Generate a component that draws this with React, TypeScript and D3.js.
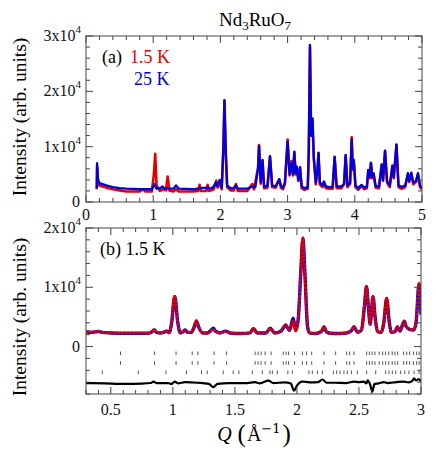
import React from 'react';
import * as d3 from 'd3';

const W = 436;
const H = 456;
const FONT = '"Liberation Serif", "Times New Roman", serif';
const RED = '#e40000';
const BLUE = '#0000d8';

// (a) neutron pattern at 1.5 K and 25 K, [Q, intensity]
const pattern15K: [number, number][] = [
  [0.16, 2300], [0.165, 6500], [0.18, 3500], [0.2, 3000], [0.3, 2600], [0.4, 2300], [0.5, 2100],
  [0.6, 1900], [0.8, 1900], [0.85, 2300], [0.88, 1900], [0.98, 1900], [1.01, 5000], [1.03, 8700],
  [1.05, 3000], [1.1, 2000], [1.15, 2300], [1.19, 2100], [1.215, 4600], [1.24, 2100], [1.3, 1900],
  [1.34, 2300], [1.38, 1900], [1.6, 1900], [1.67, 2000], [1.69, 3100], [1.71, 2000], [1.79, 2000],
  [1.81, 3100], [1.83, 2000], [1.9, 2300], [1.94, 3850], [1.96, 2600], [1.99, 3600], [2.02, 2300],
  [2.045, 10000], [2.06, 18300], [2.08, 9000], [2.1, 2700], [2.15, 2100], [2.2, 2100], [2.23, 3250],
  [2.26, 2000], [2.4, 2000], [2.475, 3250], [2.5, 2300], [2.56, 6200], [2.575, 10300], [2.6, 3300],
  [2.627, 7500], [2.65, 2500], [2.7, 2600], [2.738, 8200], [2.77, 2700], [2.82, 2600], [2.85, 3400],
  [2.876, 4100], [2.9, 2600], [2.93, 2300], [2.96, 3300], [3.0, 11300], [3.03, 4800], [3.06, 7400],
  [3.08, 4800], [3.1, 9000], [3.12, 5000], [3.135, 6300], [3.16, 3800], [3.185, 6200], [3.21, 2500],
  [3.25, 2200], [3.3, 2400], [3.315, 9000], [3.333, 28000], [3.35, 12000], [3.37, 15000], [3.39, 7800],
  [3.42, 3200], [3.445, 5800], [3.46, 8800], [3.48, 3200], [3.52, 2700], [3.54, 3600], [3.57, 2500],
  [3.62, 2400], [3.67, 2400], [3.7, 8100], [3.73, 2500], [3.8, 2500], [3.84, 3200], [3.864, 8400],
  [3.89, 2700], [3.93, 3300], [3.954, 11700], [3.97, 5800], [3.985, 7500], [4.01, 2700], [4.05, 2200],
  [4.1, 2900], [4.14, 2300], [4.18, 2500], [4.2, 5700], [4.22, 4300], [4.24, 7000], [4.26, 4300],
  [4.28, 5000], [4.31, 2600], [4.36, 2500], [4.4, 6800], [4.42, 3800], [4.45, 9200], [4.48, 3500],
  [4.52, 2700], [4.56, 6600], [4.58, 4300], [4.62, 10300], [4.65, 2700], [4.7, 2400], [4.75, 2700],
  [4.79, 5000], [4.81, 3600], [4.84, 5200], [4.87, 3200], [4.91, 3600], [4.94, 5000], [4.97, 2700],
  [5.0, 2300],
];

const pattern25K: [number, number][] = [
  [0.16, 2500], [0.165, 7000], [0.18, 4000], [0.2, 3400], [0.3, 3000], [0.4, 2700], [0.5, 2500],
  [0.6, 2400], [0.8, 2300], [0.98, 2300], [1.02, 3200], [1.05, 2400], [1.1, 2500], [1.14, 2800],
  [1.17, 2400], [1.3, 2400], [1.34, 3000], [1.38, 2400], [1.6, 2300], [1.7, 2500], [1.8, 2600],
  [1.86, 2400], [1.9, 2800], [1.93, 3500], [1.95, 2900], [1.99, 4000], [2.02, 2600], [2.045, 10000],
  [2.06, 18400], [2.08, 9000], [2.1, 3000], [2.15, 2500], [2.2, 2500], [2.23, 3000], [2.26, 2400],
  [2.4, 2400], [2.47, 2800], [2.52, 2700], [2.56, 6000], [2.575, 10100], [2.6, 3600], [2.627, 7600],
  [2.65, 2800], [2.7, 2900], [2.738, 8300], [2.77, 3000], [2.82, 2800], [2.85, 3500], [2.876, 4100],
  [2.9, 2900], [2.93, 2600], [2.96, 3500], [3.0, 10900], [3.03, 5000], [3.06, 7000], [3.08, 5000],
  [3.1, 9100], [3.12, 5200], [3.135, 6400], [3.16, 4000], [3.185, 6300], [3.21, 2800], [3.25, 2500],
  [3.3, 2700], [3.315, 9000], [3.333, 28400], [3.35, 12000], [3.37, 15100], [3.39, 8000], [3.42, 3500],
  [3.445, 6000], [3.46, 8900], [3.48, 3500], [3.52, 3000], [3.54, 3700], [3.57, 2800], [3.62, 2700],
  [3.67, 2700], [3.7, 8200], [3.73, 2800], [3.8, 2800], [3.84, 3300], [3.864, 8500], [3.89, 3000],
  [3.93, 3500], [3.954, 11300], [3.97, 6000], [3.985, 7600], [4.01, 3000], [4.05, 2500], [4.1, 3100],
  [4.14, 2600], [4.18, 2800], [4.2, 5800], [4.22, 4500], [4.24, 7100], [4.26, 4500], [4.28, 5200],
  [4.31, 2900], [4.36, 2800], [4.4, 6700], [4.42, 4000], [4.45, 9300], [4.48, 3800], [4.52, 3000],
  [4.56, 6500], [4.58, 4500], [4.62, 10400], [4.65, 3000], [4.7, 2700], [4.75, 3000], [4.79, 5200],
  [4.81, 3800], [4.84, 5300], [4.87, 3500], [4.91, 3800], [4.94, 5200], [4.97, 3000], [5.0, 2600],
];

// (b) refinement at 1.5 K: calculated, observed, difference
const calc15K: [number, number][] = [
  [0.3, 2450], [0.35, 2400], [0.4, 2550], [0.43, 2400], [0.5, 2300], [0.6, 2250], [0.7, 2250],
  [0.8, 2250], [0.83, 2450], [0.85, 2800], [0.87, 2400], [0.9, 2300], [0.93, 2450], [0.95, 2600],
  [0.97, 2350], [0.99, 4000], [1.015, 8400], [1.04, 4000], [1.06, 2300], [1.08, 2500], [1.1, 2800],
  [1.12, 2400], [1.15, 2400], [1.17, 3200], [1.19, 4300], [1.21, 3200], [1.24, 2300], [1.28, 2300],
  [1.31, 2800], [1.325, 3100], [1.345, 2600], [1.38, 2300], [1.425, 2600], [1.46, 2300], [1.55, 2200],
  [1.62, 2300], [1.65, 3000], [1.68, 2300], [1.75, 2300], [1.785, 3100], [1.82, 2300], [1.87, 2600],
  [1.91, 3600], [1.94, 2700], [1.97, 4800], [1.99, 2700], [2.01, 4500], [2.03, 12000], [2.048, 18200],
  [2.065, 12000], [2.085, 3500], [2.1, 2300], [2.15, 2200], [2.2, 2600], [2.218, 3300], [2.24, 2400],
  [2.3, 2200], [2.4, 2300], [2.44, 2700], [2.46, 3300], [2.49, 2400], [2.52, 2800], [2.545, 7000],
  [2.56, 10100], [2.575, 7000], [2.59, 3800], [2.6, 5500], [2.613, 8400], [2.63, 5000], [2.65, 2500],
  [2.68, 2400], [2.7, 4000], [2.723, 8100], [2.745, 4000], [2.76, 2400], [2.79, 2500], [2.81, 3300],
  [2.83, 2600], [2.85, 3600], [2.865, 4300], [2.88, 3400], [2.91, 2900], [2.94, 2800], [2.96, 4000],
  [2.984, 10500], [3.0, 5400],
];

const obs15K: [number, number][] = [
  [0.3, 2450], [0.35, 2450], [0.4, 2600], [0.43, 2400], [0.5, 2300], [0.6, 2250], [0.7, 2250],
  [0.8, 2250], [0.83, 2450], [0.85, 2900], [0.87, 2450], [0.9, 2300], [0.93, 2500], [0.95, 2650],
  [0.97, 2350], [0.99, 4100], [1.015, 8600], [1.04, 4000], [1.06, 2300], [1.08, 2550], [1.1, 2800],
  [1.12, 2400], [1.15, 2400], [1.17, 3300], [1.19, 4400], [1.21, 3200], [1.24, 2300], [1.28, 2250],
  [1.31, 2700], [1.325, 2900], [1.345, 2500], [1.38, 2300], [1.425, 2550], [1.46, 2300], [1.55, 2200],
  [1.62, 2300], [1.65, 3100], [1.68, 2300], [1.75, 2300], [1.785, 3100], [1.82, 2300], [1.87, 2700],
  [1.91, 3700], [1.94, 2700], [1.97, 4300], [1.99, 2600], [2.01, 4600], [2.03, 12200], [2.048, 18400],
  [2.065, 12000], [2.085, 3500], [2.1, 2300], [2.15, 2200], [2.2, 2700], [2.218, 3400], [2.24, 2400],
  [2.3, 2200], [2.4, 2300], [2.44, 2800], [2.46, 3400], [2.49, 2400], [2.52, 2800], [2.545, 7200],
  [2.56, 10200], [2.575, 7000], [2.59, 3700], [2.6, 5500], [2.613, 8500], [2.63, 4900], [2.65, 2500],
  [2.68, 2400], [2.7, 4000], [2.723, 8200], [2.745, 4000], [2.76, 2400], [2.79, 2600], [2.81, 3400],
  [2.83, 2600], [2.85, 3700], [2.865, 4300], [2.88, 3400], [2.91, 2900], [2.94, 2800], [2.96, 4200],
  [2.984, 10700], [3.0, 5400],
];

const diff15K: [number, number][] = [
  [0.3, -6150], [0.45, -6200], [0.6, -6300], [0.75, -6250], [0.82, -6150], [0.845, -5900],
  [0.87, -6150], [0.96, -6150], [0.99, -6300], [1.015, -5900], [1.04, -6200], [1.1, -6000],
  [1.2, -6100], [1.29, -6300], [1.326, -6850], [1.36, -6300], [1.45, -6150], [1.6, -6150],
  [1.66, -6000], [1.7, -6200], [1.77, -5750], [1.81, -6150], [1.9, -6050], [1.95, -6200],
  [1.976, -7450], [2.0, -6600], [2.04, -5900], [2.07, -5950], [2.12, -6050], [2.17, -6000],
  [2.205, -5550], [2.24, -6100], [2.3, -6100], [2.4, -6150], [2.46, -5900], [2.5, -6000],
  [2.54, -5900], [2.56, -6200], [2.57, -5700], [2.59, -6400], [2.608, -7600], [2.625, -6300],
  [2.66, -6200], [2.7, -6000], [2.73, -6150], [2.8, -6000], [2.86, -5900], [2.9, -6050],
  [2.93, -5800], [2.944, -5350], [2.96, -5700], [2.98, -5500], [3.0, -5900],
];

// Bragg reflection positions (Q) for the three tick rows
const braggNuclear = [
  0.578, 0.852, 1.026, 1.156, 1.202, 1.332, 1.433, 1.663, 1.687, 1.711, 1.744, 1.792, 1.89, 1.913,
  1.933, 1.981, 2.044, 2.078, 2.119, 2.218, 2.312, 2.401, 2.425, 2.46, 2.562, 2.584, 2.606, 2.629,
  2.663, 2.691, 2.715, 2.74, 2.768, 2.79, 2.812, 2.86, 2.885, 2.909, 2.939, 2.965, 2.985,
];
const braggSecond = braggNuclear;
const braggThird = [
  0.431, 0.721, 0.944, 1.11, 1.231, 1.277, 1.406, 1.487, 1.532, 1.64, 1.721, 1.782, 1.802, 1.842,
  1.927, 1.963, 2.097, 2.124, 2.165, 2.205, 2.294, 2.32, 2.347, 2.379, 2.406, 2.439, 2.487, 2.562,
  2.635, 2.715, 2.742, 2.769, 2.796, 2.836, 2.869, 2.903, 2.944, 2.984,
];

const topXTicks = [0, 1, 2, 3, 4, 5];
const topYTicks = [0, 10000, 20000, 30000];
const botXTicks = [0.5, 1, 1.5, 2, 2.5, 3];
const botYTicks = [0, 10000, 20000];

const topBox = { left: 86, right: 422, top: 36, bottom: 202 };
const botBox = { left: 86, right: 421, top: 228, bottom: 394 };

const xTop = d3.scaleLinear().domain([0, 5]).range([topBox.left, topBox.right]);
const yTop = d3.scaleLinear().domain([0, 30000]).range([topBox.bottom, topBox.top]);
const xBot = d3.scaleLinear().domain([0.3, 3]).range([botBox.left, botBox.right]);
const yBot = d3.scaleLinear().domain([-8000, 20000]).range([botBox.bottom, botBox.top]);

const steps = (a: number, b: number, s: number) =>
  d3.range(Math.round(a / s), Math.round(b / s) + 1).map(i => +(i * s).toFixed(4));

const Frame = ({ box, x, y, xMajor, xMinor, yMajor, yMinor }: any) => {
  const ticks: JSX.Element[] = [];
  xMinor.forEach((v: number, i: number) => {
    const px = x(v);
    const len = xMajor.some((m: number) => Math.abs(m - v) < 1e-6) ? 7 : 4;
    ticks.push(<line key={`xb${i}`} x1={px} x2={px} y1={box.bottom} y2={box.bottom - len} />);
    ticks.push(<line key={`xt${i}`} x1={px} x2={px} y1={box.top} y2={box.top + len} />);
  });
  yMinor.forEach((v: number, i: number) => {
    const py = y(v);
    const len = yMajor.some((m: number) => Math.abs(m - v) < 1e-6) ? 7 : 4;
    ticks.push(<line key={`yl${i}`} x1={box.left} x2={box.left + len} y1={py} y2={py} />);
    ticks.push(<line key={`yr${i}`} x1={box.right} x2={box.right - len} y1={py} y2={py} />);
  });
  return (
    <g stroke="#444" strokeWidth={1} fill="none">
      <rect x={box.left} y={box.top} width={box.right - box.left} height={box.bottom - box.top} />
      {ticks}
    </g>
  );
};

const YLabel = ({ v, y }: { v: number; y: number }) =>
  v === 0 ? (
    <text x={80} y={y + 5} textAnchor="end">0</text>
  ) : (
    <text x={81} y={y + 5} textAnchor="end">
      {`${v / 10000}x10`}
      <tspan dy={-8} fontSize={11}>4</tspan>
    </text>
  );

export default function App() {
  const lineTop = d3.line<[number, number]>().x(d => xTop(d[0])).y(d => yTop(d[1]));
  const lineBot = d3
    .line<[number, number]>()
    .x(d => xBot(d[0]))
    .y(d => yBot(d[1]))
    .curve(d3.curveMonotoneX);

  const braggRows = [
    { q: braggNuclear, y: 353.3 },
    { q: braggSecond, y: 363 },
    { q: braggThird, y: 372.3 },
  ];

  return (
    <svg
      width={W}
      height={H}
      style={{ position: 'absolute', left: 0, top: 0, background: '#fff' }}
      fontFamily={FONT}
    >
      <defs>
        <clipPath id="clipTop">
          <rect x={topBox.left} y={topBox.top} width={topBox.right - topBox.left} height={topBox.bottom - topBox.top} />
        </clipPath>
        <clipPath id="clipBot">
          <rect x={botBox.left} y={botBox.top} width={botBox.right - botBox.left} height={botBox.bottom - botBox.top} />
        </clipPath>
      </defs>

      {/* title */}
      <text x={255} y={26} textAnchor="middle" fontSize={19}>
        Nd<tspan fontSize={13} dy={4}>3</tspan>
        <tspan dy={-4}>RuO</tspan>
        <tspan fontSize={13} dy={4}>7</tspan>
      </text>

      {/* (a) */}
      <g clipPath="url(#clipTop)" fill="none" strokeLinejoin="round">
        <path d={lineTop(pattern15K) || ''} stroke={RED} strokeWidth={2.6} />
        <path d={lineTop(pattern25K) || ''} stroke={BLUE} strokeWidth={2.3} />
      </g>
      <Frame
        box={topBox}
        x={xTop}
        y={yTop}
        xMajor={topXTicks}
        xMinor={steps(0, 5, 0.2)}
        yMajor={topYTicks}
        yMinor={steps(0, 30000, 2000)}
      />
      <g fontSize={16} fill="#111">
        {topXTicks.map(v => (
          <text key={v} x={xTop(v)} y={220} textAnchor="middle">{v}</text>
        ))}
        {topYTicks.map(v => (
          <YLabel key={v} v={v} y={yTop(v)} />
        ))}
      </g>
      <text x={102} y={63} fontSize={18}>(a)</text>
      <text x={130} y={63} fontSize={18} fill={RED}>1.5 K</text>
      <text x={134} y={85} fontSize={18} fill={BLUE}>25 K</text>
      <text transform="translate(26,117) rotate(-90)" textAnchor="middle" fontSize={19.5}>
        Intensity (arb. units)
      </text>

      {/* (b) */}
      <g clipPath="url(#clipBot)" fill="none" strokeLinejoin="round">
        <path d={lineBot(calc15K) || ''} stroke={BLUE} strokeWidth={3.4} />
        <path d={lineBot(obs15K) || ''} stroke={RED} strokeWidth={2.6} strokeDasharray="3.2 0.7" />
        <path d={lineBot(diff15K) || ''} stroke="#000" strokeWidth={2.2} />
        {braggRows.map((row, r) =>
          row.q.map((q, i) => (
            <line key={`${r}-${i}`} x1={xBot(q)} x2={xBot(q)} y1={row.y - 1.8} y2={row.y + 1.8} stroke="#555" strokeWidth={1} />
          ))
        )}
      </g>
      <Frame
        box={botBox}
        x={xBot}
        y={yBot}
        xMajor={botXTicks}
        xMinor={steps(0.3, 3, 0.1)}
        yMajor={botYTicks}
        yMinor={steps(-8000, 20000, 2000)}
      />
      <g fontSize={16} fill="#111">
        {botXTicks.map(v => (
          <text key={v} x={xBot(v)} y={415} textAnchor="middle">{v}</text>
        ))}
        {botYTicks.map(v => (
          <YLabel key={v} v={v} y={yBot(v)} />
        ))}
      </g>
      <text x={100} y={255} fontSize={18}>(b) 1.5 K</text>
      <text transform="translate(26,317) rotate(-90)" textAnchor="middle" fontSize={19.5}>
        Intensity (arb. units)
      </text>

      <text x={254} y={441} textAnchor="middle" fontSize={20}>
        <tspan fontStyle="italic">Q</tspan>
        <tspan dx={6} fontSize={25} dy={1}>(</tspan>
        <tspan dx={1} dy={-1}>Å</tspan>
        <tspan fontSize={13} dy={-8} fontFamily='"DejaVu Serif", serif'>−1</tspan>
        <tspan dx={2} fontSize={25} dy={9}>)</tspan>
      </text>
    </svg>
  );
}
